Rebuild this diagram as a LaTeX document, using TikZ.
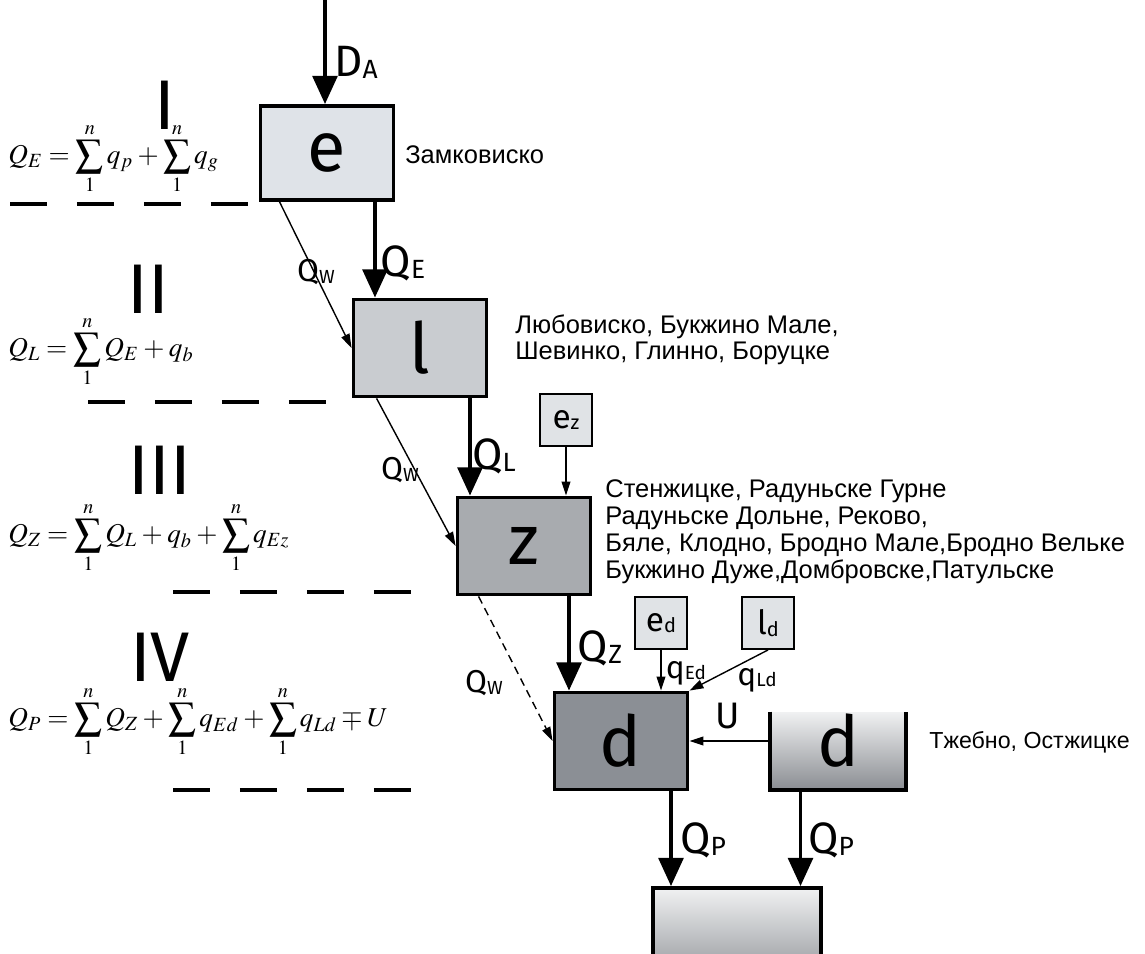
\documentclass[tikz,border=0pt]{standalone}
\usepackage{mathptmx}
\usepackage[no-math]{fontspec}
\setmainfont{Liberation Sans}
\newfontfamily\labfont{Fira Sans}
\usetikzlibrary{arrows.meta}
\definecolor{eFill}{RGB}{223,227,232}
\definecolor{lFill}{RGB}{201,204,208}
\definecolor{zFill}{RGB}{168,171,175}
\definecolor{dFill}{RGB}{139,143,149}
\definecolor{smallFill}{RGB}{224,227,230}
\definecolor{tankHi}{RGB}{240,241,242}
\definecolor{tankLo}{RGB}{138,141,146}
\newcommand{\Sb}[1]{\raisebox{-0.05em}{\scalebox{0.6}{#1}}}
\newcommand{\boxfont}{\labfont\fontsize{40}{40}\selectfont}
\newcommand{\smallfont}{\labfont\fontsize{19}{19}\selectfont}
\newcommand{\flowfont}{\labfont\fontsize{25}{25}\selectfont}
\newcommand{\wfont}{\labfont\fontsize{18}{18}\selectfont}
\newcommand{\stagefont}{\labfont\fontsize{40}{40}\selectfont}
\newcommand{\eqfont}{\fontsize{15.5}{18}\selectfont\medmuskip=3mu}

\begin{document}
\begin{tikzpicture}[
      x=0.02cm, y=-0.02cm,
      box/.style={draw,line width=2.2pt,minimum width=2.66cm,minimum height=1.94cm,inner sep=0pt,font=\boxfont},
      small/.style={draw,line width=1.1pt,fill=smallFill,minimum width=1.04cm,minimum height=1.04cm,inner sep=0pt,font=\smallfont},
      flow/.style={line width=2.2pt,-{Triangle[width=14pt,length=16pt]}},
      thin/.style={line width=0.8pt,-{Triangle[width=5pt,length=8pt]}},
      flowlab/.style={inner sep=0pt,font=\flowfont},
      wlab/.style={inner sep=0pt,font=\wfont},
      border/.style={line width=1.9pt,dash pattern=on 0.74cm off 0.6cm},
      stage/.style={inner sep=0pt,font=\stagefont},
      eq/.style={anchor=west,inner sep=0pt,font=\eqfont},
      place/.style={anchor=west,align=left,inner sep=0pt,font=\fontsize{14.5}{15}\selectfont}
    ]
    \useasboundingbox (0,0) rectangle (1145,953);
    \clip (0,0) rectangle (1145,953);
    % Draw the reservoirs.
    \node[box,fill=eFill,minimum height=1.88cm] (boxE) at (327,153) {e};
    \node[box,fill=lFill] (boxL) at (420,348) {l};
    \node[box,fill=zFill] (boxZ) at (524,546) {z};
    \node[box,fill=dFill] (boxD) at (621,741) {d};
    \node[minimum width=2.7cm,minimum height=1.56cm,inner sep=0pt,top color=tankHi,bottom color=tankLo,font=\boxfont] (tankD) at (838,751) {\raisebox{0.3em}{d}};
    \draw[line width=2.2pt] (tankD.north west) -- (tankD.south west) -- (tankD.south east) -- (tankD.north east);
    \node[box,minimum width=3.36cm,minimum height=2cm,top color=tankHi,bottom color=tankLo] (outlet) at (737,938) {};
    % Draw the side inflows.
    \node[small] (subEz) at (566,420) {e\Sb{z}};
    \node[small] (subEd) at (661,623) {e\Sb{d}};
    \node[small] (subLd) at (768,623) {l\Sb{d}};
    % Draw the main flows.
    \coordinate (topDA) at (325,0);
    \path ([xshift=0.96cm]boxE.south) coordinate (qE);
    \path ([xshift=1cm]boxL.south) coordinate (qL);
    \path ([xshift=0.9cm]boxZ.south) coordinate (qZ);
    \path ([xshift=1cm]boxD.south) coordinate (qP);
    \path ([xshift=-0.75cm]tankD.south) coordinate (qPt);
    \draw[flow] (topDA) -- (topDA |- boxE.north);
    \draw[flow] (qE) -- (qE |- boxL.north);
    \draw[flow] (qL) -- (qL |- boxZ.north);
    \draw[flow] (qZ) -- (qZ |- boxD.north);
    \draw[flow] (qP) -- (qP |- outlet.north);
    \draw[flow] (qPt) -- (qPt |- outlet.north);
    % Draw the bypass and side flows.
    \draw[thin] ([xshift=0.42cm]boxE.south west) -- (boxL.west);
    \draw[thin] ([xshift=0.5cm]boxL.south west) -- (boxZ.west);
    \draw[thin,dash pattern=on 4.5pt off 3pt] ([xshift=0.46cm]boxZ.south west) -- (boxD.west);
    \draw[thin] (subEz.south) -- (subEz.south |- boxZ.north);
    \draw[thin] (subEd.south) -- (subEd.south |- boxD.north);
    \draw[thin] (subLd.south) -- (boxD.north east);
    \draw[thin] (tankD.west |- boxD.east) -- (boxD.east);
    % Flow labels.
    \node[flowlab] (labDA) at (356,62) {D\Sb{A}};
    \node[flowlab] (labQE) at (403,263) {Q\Sb{E}};
    \node[flowlab] (labQL) at (494,456) {Q\Sb{L}};
    \node[flowlab] (labQZ) at (600,648) {Q\Sb{Z}};
    \node[flowlab] (labQP) at (703,840) {Q\Sb{P}};
    \node[flowlab] (labQPt) at (831,840) {Q\Sb{P}};
    \node[wlab] (labW1) at (316,272) {Q\Sb{W}};
    \node[wlab] (labW2) at (400,470) {Q\Sb{W}};
    \node[wlab] (labW3) at (484,683) {Q\Sb{W}};
    \node[wlab] (labEd) at (686,673) {q\Sb{Ed}};
    \node[wlab] (labLd) at (757,680) {q\Sb{Ld}};
    \node[wlab,font=\labfont\fontsize{21}{21}\selectfont] (labU) at (728,716) {U};
    % Stages and balances.
    \node[stage] (st1) at (165,105) {I};
    \node[stage] (st2) at (148,289) {II};
    \node[stage] (st3) at (160,470) {III};
    \node[stage] (st4) at (160,657) {IV};
    \node[eq] (eqE) at (8,159) {$Q_E=\displaystyle\sum_1^n q_p+\sum_1^n q_g$};
    \node[eq] (eqL) at (8,352) {$Q_L=\displaystyle\sum_1^n Q_E+q_b$};
    \node[eq] (eqZ) at (8,538) {$Q_Z=\displaystyle\sum_1^n Q_L+q_b+\sum_1^n q_{Ez}$};
    \node[eq] (eqP) at (8,722) {$Q_P=\displaystyle\sum_1^n Q_Z+\sum_1^n q_{Ed}+\sum_1^n q_{Ld}\mp U$};
    \draw[border] (10,204) -- (250,204);
    \draw[border] (88,402) -- (328,402);
    \draw[border] (173,592) -- (413,592);
    \draw[border] (173,790) -- (413,790);
    % Lake names.
    \node[place] (nmE) at (405,155) {Замковиско};
    \node[place] (nmL) at (515,340) {Любовиско, Букжино Мале,\\Шевинко, Глинно, Боруцке};
    \node[place,font=\fontsize{14.5}{15.3}\selectfont] (nmZ) at (605,532) {Стенжицке, Радуньске Гурне\\Радуньске Дольне, Реково,\\Бяле, Клодно, Бродно Мале,Бродно Вельке\\Букжино Дуже,Домбровске,Патульске};
    \node[place,font=\fontsize{13.2}{15}\selectfont] (nmD) at (929,742) {Тжебно, Остжицке};
\end{tikzpicture}
\end{document}
